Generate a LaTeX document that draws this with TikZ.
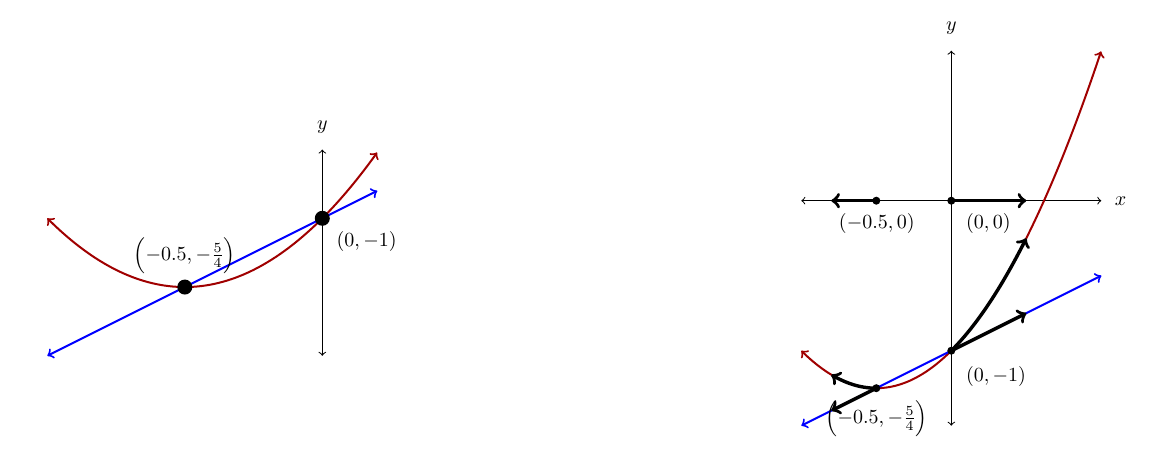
\documentclass[tikz,border=0pt]{standalone}
\usepackage{amsmath}
\definecolor{dred}{RGB}{160,0,0}
\begin{document}
\begin{tikzpicture}[
  axisline/.style={line width=0.5pt,<->},
  rcurve/.style={line width=1pt,<->,draw=dred},
  bline/.style={line width=1pt,<->,draw=blue},
  vec/.style={line width=1.7pt,->},
  bigdot/.style={circle,fill=black,inner sep=0pt,minimum size=7.5pt},
  smalldot/.style={circle,fill=black,inner sep=0pt,minimum size=4pt},
  lab/.style={inner sep=1pt}
]
\useasboundingbox (0,0) rectangle (584pt,-235pt);

% ---------- left plot ----------
\begin{scope}[shift={(161.15pt,28.35pt)},x=137.5pt,y=137.5pt]
  \coordinate (Lyb) at (0,-1.5);
  \coordinate (Lyt) at (0,-0.75);
  \draw[axisline] (Lyb) -- (Lyt);
  \node[lab] (Ly) at (0,-0.667) {$y$};
  \draw[rcurve] plot[domain=-1:0.2,samples=80,smooth] (\x,{\x*\x+\x-1});
  \coordinate (Lbl) at (-1,-1.5);
  \coordinate (Lbr) at (0.2,-0.9);
  \draw[bline] (Lbl) -- (Lbr);
  \node[bigdot] (LP) at (-0.5,-1.25) {};
  \node[bigdot] (LQ) at (0,-1) {};
  \node[lab] (LPl) at (-0.5,-1.135) {$\Bigl(-0.5,-\frac{5}{4}\Bigr)$};
  \node[lab] (LQl) at (0.1615,-1.085) {$(0,-1)$};
\end{scope}

% ---------- right plot ----------
\begin{scope}[shift={(475.65pt,-100.35pt)},x=75pt,y=75pt]
  \coordinate (Rxl) at (-1,0);
  \coordinate (Rxr) at (1,0);
  \coordinate (Ryb) at (0,-1.5);
  \coordinate (Ryt) at (0,1);
  \draw[axisline] (Rxl) -- (Rxr);
  \draw[axisline] (Ryb) -- (Ryt);
  \node[lab] (Rx) at (1.129,0) {$x$};
  \node[lab] (Ry) at (0,1.149) {$y$};
  \draw[rcurve] plot[domain=-1:1,samples=100,smooth] (\x,{\x*\x+\x-1});
  \coordinate (Rbl) at (-1,-1.5);
  \coordinate (Rbr) at (1,-0.5);
  \draw[bline] (Rbl) -- (Rbr);
  % points
  \coordinate (O) at (0,0);
  \coordinate (A) at (-0.5,0);
  \coordinate (Q) at (0,-1);
  \coordinate (P) at (-0.5,-1.25);
  \coordinate (Ot) at (0.5,0);
  \coordinate (At) at (-0.8,0);
  \coordinate (Qt) at (0.5,-0.75);
  \coordinate (Pt) at (-0.8,-1.4);
  % vectors
  \draw[vec] (O) -- (Ot);
  \draw[vec] (A) -- (At);
  \draw[vec] (Q) -- (Qt);
  \draw[vec] (P) -- (Pt);
  \draw[vec] plot[domain=0:0.5,samples=30,smooth] (\x,{\x*\x+\x-1});
  \draw[vec] plot[domain=-0.5:-0.8,samples=30,smooth] (\x,{\x*\x+\x-1});
  \node[smalldot] (Od) at (O) {};
  \node[smalldot] (Ad) at (A) {};
  \node[smalldot] (Qd) at (Q) {};
  \node[smalldot] (Pd) at (P) {};
  \node[lab] (Al) at (-0.497,-0.151) {$(-0.5,0)$};
  \node[lab] (Ol) at (0.247,-0.151) {$(0,0)$};
  \node[lab] (Ql) at (0.298,-1.173) {$(0,-1)$};
  \node[lab] (Pl) at (-0.497,-1.451) {$\Bigl(-0.5,-\frac{5}{4}\Bigr)$};
\end{scope}
\end{tikzpicture}
\end{document}
